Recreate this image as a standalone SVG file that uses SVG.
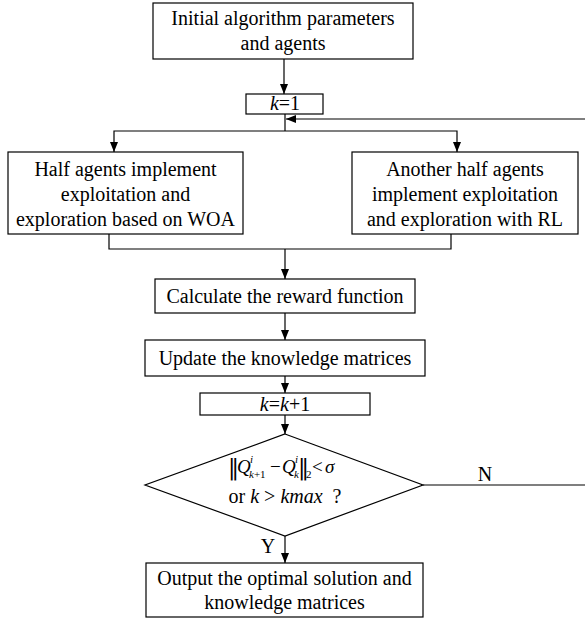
<svg xmlns="http://www.w3.org/2000/svg" width="585" height="620" viewBox="0 0 585 620">
<defs>
<marker id="arr" viewBox="0 0 10 8" refX="10" refY="4" markerWidth="10" markerHeight="8" markerUnits="userSpaceOnUse" orient="auto">
<path d="M0,0 L10,4 L0,8 z" fill="#000"/>
</marker>
<style>
.box{fill:#fff;stroke:#000;stroke-width:1.2}
.t{font-family:"Liberation Serif","Times New Roman",serif;font-size:20px;fill:#000;text-anchor:middle}
.m{font-family:"Liberation Serif","DejaVu Serif",serif;font-size:19px;fill:#000}
.d{font-family:"DejaVu Serif","Liberation Serif",serif;font-size:22px;fill:#000}
.s{font-family:"Liberation Serif","DejaVu Serif",serif;font-size:11px;fill:#000}
.i{font-style:italic}
.ln{fill:none;stroke:#000;stroke-width:1.2}
.ar{fill:none;stroke:#000;stroke-width:1.2;marker-end:url(#arr)}
</style>
</defs>
<rect width="585" height="620" fill="#fff"/>
<g id="connectors">
<line class="ar" x1="284" y1="59" x2="284" y2="94"/>
<polyline class="ln" points="285,114 285,131"/>
<polyline class="ar" points="285,131 114,131 114,152"/>
<polyline class="ar" points="285,131 457,131 457,152"/>
<line class="ar" x1="585" y1="119" x2="286" y2="119"/>
<polyline class="ln" points="109,234 109,249 451,249 451,234"/>
<line class="ar" x1="285" y1="249" x2="285" y2="279"/>
<line class="ar" x1="285" y1="313" x2="285" y2="340"/>
<line class="ar" x1="285" y1="376" x2="285" y2="393"/>
<line class="ar" x1="285" y1="415" x2="285" y2="434"/>
<line class="ar" x1="285" y1="536" x2="285" y2="563"/>
<line class="ln" x1="423" y1="485" x2="585" y2="485"/>
<text class="t" x="485" y="481">N</text>
<text class="t" x="268" y="553">Y</text>
</g>
<g id="init">
<rect class="box" x="153" y="3" width="260" height="56"/>
<text class="t" x="283" y="25">Initial algorithm parameters</text>
<text class="t" x="283" y="50">and agents</text>
</g>
<g id="k1">
<rect class="box" x="246" y="94" width="77" height="20"/>
<text class="t" x="285" y="110"><tspan class="i">k</tspan>=1</text>
</g>
<g id="woa">
<rect class="box" x="8" y="152" width="235" height="82"/>
<text class="t" x="125.5" y="176">Half agents implement</text>
<text class="t" x="125.5" y="201">exploitation and</text>
<text class="t" x="125.5" y="226">exploration based on WOA</text>
</g>
<g id="rl">
<rect class="box" x="352" y="152" width="226" height="82"/>
<text class="t" x="465" y="176">Another half agents</text>
<text class="t" x="465" y="201">implement exploitation</text>
<text class="t" x="465" y="226">and exploration with RL</text>
</g>
<g id="reward">
<rect class="box" x="155" y="279" width="260" height="34"/>
<text class="t" x="285" y="303">Calculate the reward function</text>
</g>
<g id="update">
<rect class="box" x="145" y="340" width="280" height="36"/>
<text class="t" x="285" y="365">Update the knowledge matrices</text>
</g>
<g id="kinc">
<rect class="box" x="200" y="393" width="170" height="22"/>
<text class="t" x="285" y="411"><tspan class="i">k</tspan>=<tspan class="i">k</tspan>+1</text>
</g>
<g id="decision">
<polygon class="box" points="285,434 423,485 285,536 145,485"/>
<text class="d" x="228" y="475">‖</text>
<text class="m i" x="237" y="473">Q</text>
<text class="s i" x="250" y="463">i</text>
<text class="s" x="249" y="478"><tspan class="i">k</tspan>+1</text>
<text class="m" x="270" y="473">−</text>
<text class="m i" x="282" y="473">Q</text>
<text class="s i" x="295" y="463">i</text>
<text class="s i" x="294" y="478">k</text>
<text class="d" x="298" y="475">‖</text>
<text class="s" x="306" y="478">2</text>
<text class="m" x="312" y="473">&lt;</text>
<text class="m i" x="325" y="473">σ</text>
<text class="t" x="285" y="503" xml:space="preserve">or <tspan class="i">k</tspan> &gt; <tspan class="i">kmax</tspan>  ?</text>
</g>
<g id="output">
<rect class="box" x="146" y="563" width="277" height="54"/>
<text class="t" x="284.5" y="585">Output the optimal solution and</text>
<text class="t" x="284.5" y="609">knowledge matrices</text>
</g>
</svg>
